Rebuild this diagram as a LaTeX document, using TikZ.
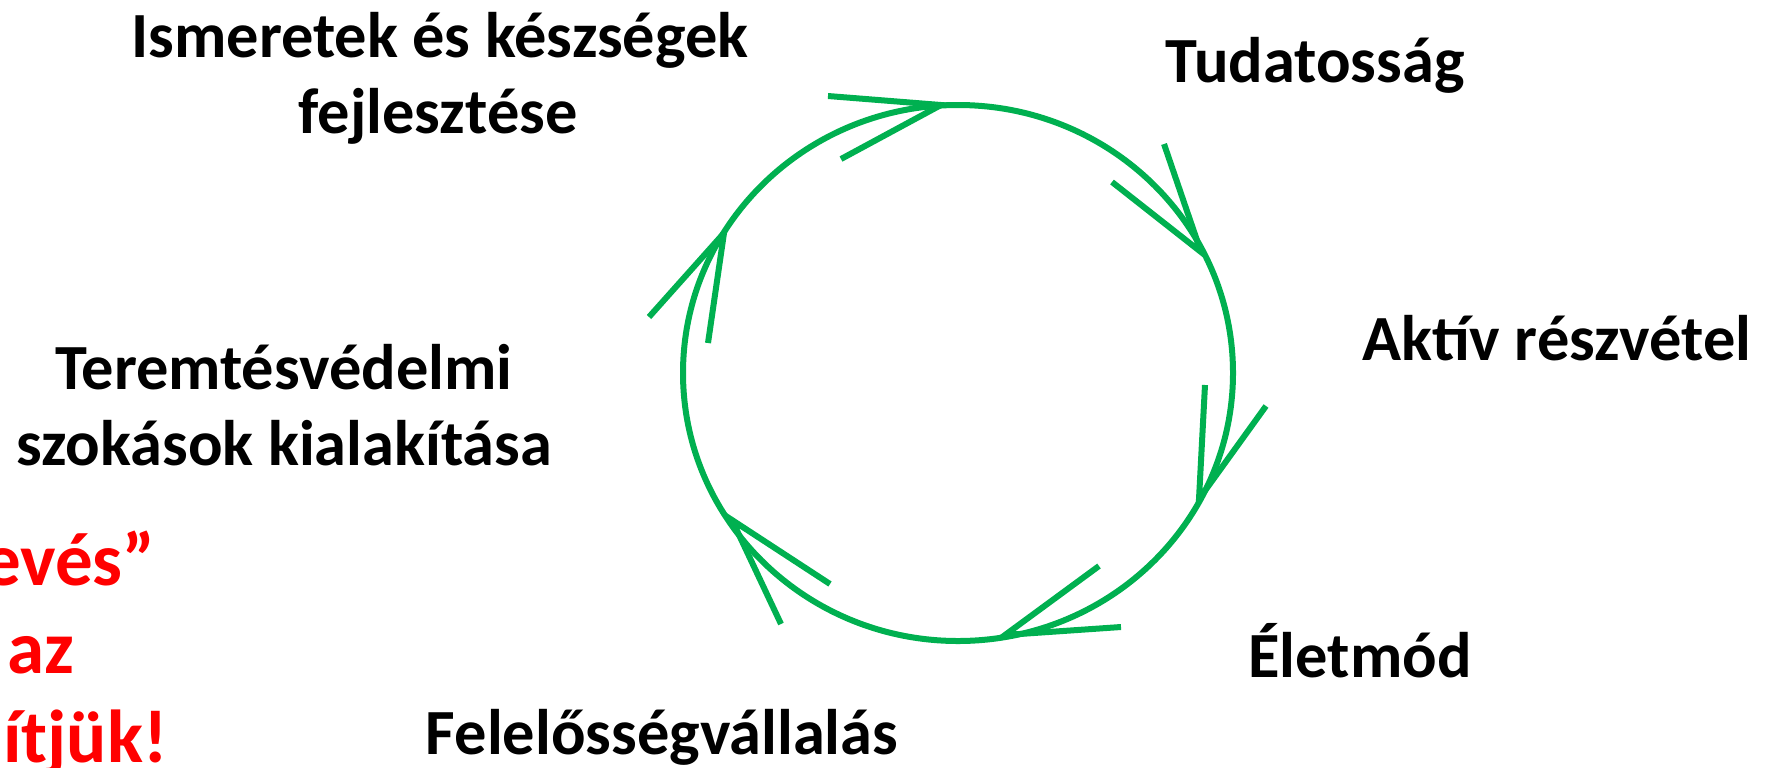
\documentclass[tikz,border=0pt]{standalone}
\usepackage{fontspec}
\setmainfont{Carlito}
\definecolor{cyclegreen}{HTML}{00B050}
\definecolor{alertred}{HTML}{FF0000}
\begin{document}
\begin{tikzpicture}[x=0.5pt,y=-0.5pt,
  lbl/.style={font=\fontsize{32.2}{38}\selectfont\bfseries, anchor=base, inner sep=0pt, align=center},
  redlbl/.style={font=\fontsize{37.5}{45}\selectfont\bfseries, text=alertred, anchor=base east, inner sep=0pt},
  ring/.style={draw=cyclegreen, line width=3pt},
  head/.style={draw=cyclegreen, line width=3pt}]
\useasboundingbox (0,0) rectangle (1777,767);
% circle
\draw[ring] (958,373) ellipse [x radius=275, y radius=268];
% arrow tips on circle (clockwise)
\coordinate (t1) at (941,105); \coordinate (a1) at (828,96);  \coordinate (b1) at (841,159);
\coordinate (t2) at (1201,252);\coordinate (a2) at (1164,144);\coordinate (b2) at (1112,182);
\coordinate (t3) at (1199,499);\coordinate (a3) at (1205,385);\coordinate (b3) at (1266,406);
\coordinate (t4) at (1005,635);\coordinate (a4) at (1099,566);\coordinate (b4) at (1121,627);
\coordinate (t5) at (732,520); \coordinate (a5) at (830,584); \coordinate (b5) at (781,624);
\coordinate (t6) at (724,233); \coordinate (a6) at (649,317); \coordinate (b6) at (708,343);
\foreach \i in {1,...,6}{\draw[head] (a\i) -- (t\i) -- (b\i);}
% labels
\node[lbl] (ism) at (440,57) {Ismeretek és készségek};
\node[lbl] (fej) at (438,133) {fejlesztése};
\node[lbl] (tud) at (1315,82) {Tudatosság};
\node[lbl] (akt) at (1557,360) {Aktív részvétel};
\node[lbl] (ter) at (284,389) {Teremtésvédelmi};
\node[lbl] (szo) at (284,465) {szokások kialakítása};
\node[lbl] (ele) at (1360,677) {Életmód};
\node[lbl] (fel) at (662,754) {Felelősségvállalás};
\node[redlbl] (r1) at (156,585) {evés”};
\node[redlbl] (r2) at (75,673) {az};
\node[redlbl] (r3) at (168,762) {ítjük!};
\end{tikzpicture}
\end{document}
